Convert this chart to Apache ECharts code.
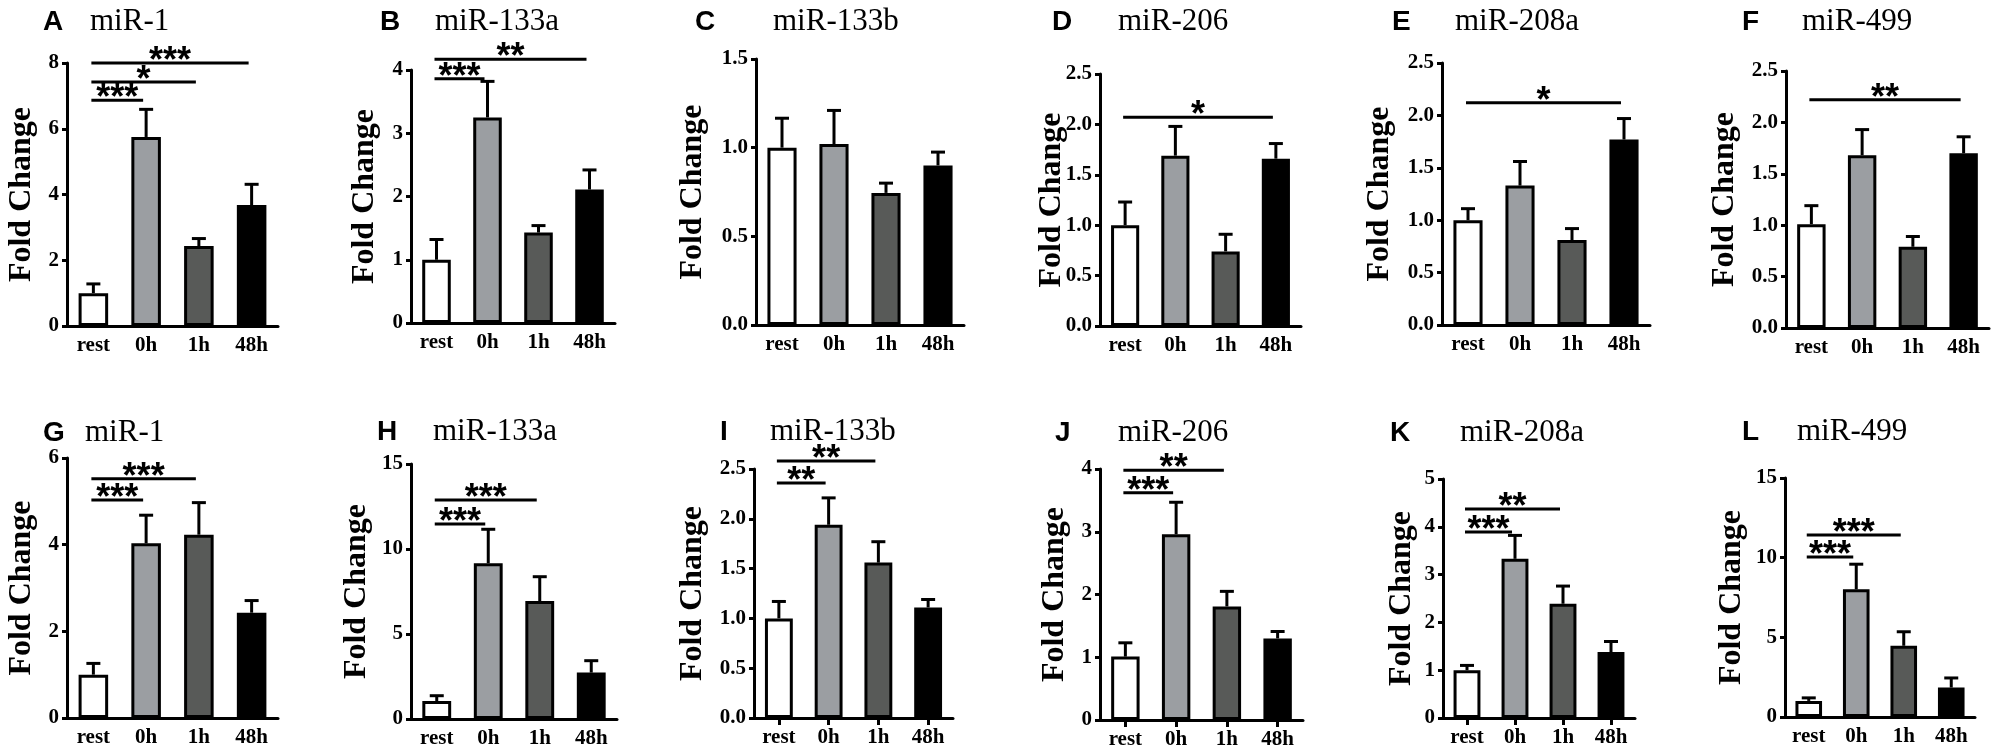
<!DOCTYPE html>
<html>
<head>
<meta charset="utf-8">
<script src="https://cdn.jsdelivr.net/npm/echarts@6/dist/echarts.min.js"></script>
<style>
html, body { margin: 0; padding: 0; background: #fff; }
#chart-container { width: 1997px; height: 756px; }
</style>
</head>
<body>
<div id="chart-container"></div>
<script>
var categories = ["rest", "0h", "1h", "48h"];
var letters = ["A", "B", "C", "D", "E", "F", "G", "H", "I", "J", "K", "L"];
var titles = ["miR-1", "miR-133a", "miR-133b", "miR-206", "miR-208a", "miR-499",
  "miR-1", "miR-133a", "miR-133b", "miR-206", "miR-208a", "miR-499"];

// mean fold change and SEM (upper error) per panel
var meanA = [1.0, 5.75, 2.43, 3.68], errA = [0.28, 0.84, 0.23, 0.63];
var meanB = [1.0, 3.25, 1.43, 2.11], errB = [0.32, 0.57, 0.11, 0.31];
var meanC = [1.0, 1.02, 0.745, 0.9], errC = [0.166, 0.19, 0.055, 0.075];
var meanD = [1.0, 1.69, 0.74, 1.66], errD = [0.23, 0.29, 0.17, 0.15];
var meanE = [1.0, 1.33, 0.81, 1.77], errE = [0.11, 0.23, 0.11, 0.2];
var meanF = [1.01, 1.68, 0.79, 1.7], errF = [0.18, 0.25, 0.1, 0.16];
var meanG = [1.0, 4.03, 4.23, 2.43], errG = [0.26, 0.65, 0.74, 0.28];
var meanH = [1.06, 9.16, 6.94, 2.73], errH = [0.31, 2.0, 1.43, 0.7];
var meanI = [1.0, 1.94, 1.56, 1.11], errI = [0.17, 0.27, 0.21, 0.08];
var meanJ = [1.01, 2.96, 1.81, 1.3], errJ = [0.22, 0.51, 0.24, 0.11];
var meanK = [1.0, 3.33, 2.39, 1.38], errK = [0.1, 0.49, 0.37, 0.22];
var meanL = [1.01, 8.01, 4.47, 1.85], errL = [0.19, 1.58, 0.88, 0.6];

// significance brackets: [from group, to group, height, stars]
var sigA = [[0, 1, 6.87, "***"], [0, 2, 7.42, "*"], [0, 3, 8.0, "***"]];
var sigB = [[0, 1, 3.86, "***"], [0, 3, 4.17, "**"]];
var sigC = [];
var sigD = [[0, 3, 2.07, "*"]];
var sigE = [[0, 3, 2.12, "*"]];
var sigF = [[0, 3, 2.22, "**"]];
var sigG = [[0, 1, 5.03, "***"], [0, 2, 5.52, "***"]];
var sigH = [[0, 1, 11.47, "***"], [0, 2, 12.88, "***"]];
var sigI = [[0, 1, 2.36, "**"], [0, 2, 2.58, "**"]];
var sigJ = [[0, 1, 3.62, "***"], [0, 2, 3.98, "**"]];
var sigK = [[0, 1, 3.89, "***"], [0, 2, 4.37, "**"]];
var sigL = [[0, 1, 10.04, "***"], [0, 2, 11.42, "***"]];

var yMax = [8, 4, 1.5, 2.5, 2.5, 2.5, 6, 15, 2.5, 4, 5, 15];
var yStep = [2, 1, 0.5, 0.5, 0.5, 0.5, 2, 5, 0.5, 1, 1, 5];

var means = [meanA, meanB, meanC, meanD, meanE, meanF, meanG, meanH, meanI, meanJ, meanK, meanL];
var errs = [errA, errB, errC, errD, errE, errF, errG, errH, errI, errJ, errK, errL];
var sigs = [sigA, sigB, sigC, sigD, sigE, sigF, sigG, sigH, sigI, sigJ, sigK, sigL];

// layout: [axis x, top tick y, axis end x, baseline y]
var boxes = [
  [67, 63, 278, 326], [411, 70, 615, 323], [756, 59, 964, 325],
  [1100, 74, 1301, 326], [1442, 63, 1650, 325], [1786, 71, 1989, 328],
  [67, 458, 278, 718], [411, 464, 617, 719], [754, 469, 953, 718],
  [1100, 469, 1303, 720], [1443, 479, 1635, 718], [1785, 478, 1975, 717]
];
// [letter x, title x, title y]
var titlePos = [
  [43, 90, 22], [380, 435, 22], [695, 773, 22], [1052, 1118, 22], [1392, 1455, 22], [1742, 1802, 22],
  [43, 85, 433], [377, 433, 432], [720, 770, 432], [1055, 1118, 433], [1390, 1460, 433], [1742, 1797, 432]
];
var yNameX = [22, 365, 693, 1052, 1380, 1725, 22, 357, 693, 1055, 1402, 1732];
var xTicks = [false, false, false, false, false, false, false, false, true, true, true, false];
var fills = ["#ffffff", "#9b9ea2", "#585a58", "#000000"];

var dom = document.getElementById("chart-container");
var myChart = echarts.init(dom, null, { renderer: "canvas" });

var serif = '"Liberation Serif", "Times New Roman", serif';
var grids = [], xAxes = [], yAxes = [], series = [], graphics = [];

boxes.forEach(function (b, i) {
  grids.push({ left: b[0], top: b[1], width: b[2] - b[0], height: b[3] - b[1] });
  xAxes.push({
    gridIndex: i,
    type: "category",
    data: categories,
    axisLine: { lineStyle: { color: "#000", width: 3 } },
    axisTick: { show: xTicks[i], alignWithLabel: true, length: 7, lineStyle: { color: "#000", width: 3 } },
    axisLabel: { color: "#000", fontFamily: serif, fontWeight: "bold", fontSize: 21, margin: 9 }
  });
  yAxes.push({
    gridIndex: i,
    type: "value",
    min: 0,
    max: yMax[i],
    interval: yStep[i],
    splitLine: { show: false },
    axisLine: { show: true, lineStyle: { color: "#000", width: 3 } },
    axisTick: { show: true, length: 5, lineStyle: { color: "#000", width: 3 } },
    axisLabel: {
      color: "#000", fontFamily: serif, fontWeight: "bold", fontSize: 21, margin: 8,
      formatter: function (v) { return yStep[i] < 1 ? v.toFixed(1) : String(v); }
    }
  });

  series.push({
    type: "bar",
    xAxisIndex: i,
    yAxisIndex: i,
    barWidth: "56%",
    silent: true,
    itemStyle: { borderColor: "#000", borderWidth: 3 },
    data: means[i].map(function (v, k) {
      return { value: v, itemStyle: { color: fills[k] } };
    })
  });

  // error bars (upper only)
  series.push({
    type: "custom",
    xAxisIndex: i,
    yAxisIndex: i,
    z: 3,
    silent: true,
    data: means[i].map(function (v, k) { return [k, v, v + errs[i][k]]; }),
    encode: { x: 0, y: [1, 2] },
    renderItem: function (params, api) {
      var p0 = api.coord([api.value(0), api.value(1)]);
      var p1 = api.coord([api.value(0), api.value(2)]);
      var st = { stroke: "#000", lineWidth: 3 };
      return {
        type: "group",
        children: [
          { type: "line", shape: { x1: p0[0], y1: p0[1], x2: p1[0], y2: p1[1] }, style: st },
          { type: "line", shape: { x1: p1[0] - 7, y1: p1[1], x2: p1[0] + 7, y2: p1[1] }, style: st }
        ]
      };
    }
  });

  // significance lines with stars
  series.push({
    type: "custom",
    xAxisIndex: i,
    yAxisIndex: i,
    z: 4,
    silent: true,
    data: sigs[i].map(function (s) { return [s[0], s[1], s[2]]; }),
    encode: { x: [0, 1], y: 2 },
    renderItem: function (params, api) {
      var s = sigs[i][params.dataIndex];
      var a = api.coord([s[0], s[2]]);
      var c = api.coord([s[1], s[2]]);
      var x1 = a[0] - 2, x2 = c[0] - 3;
      return {
        type: "group",
        children: [
          { type: "line", shape: { x1: x1, y1: a[1], x2: x2, y2: a[1] }, style: { stroke: "#000", lineWidth: 3 } },
          {
            type: "text", x: (x1 + x2) / 2, y: a[1] - 1,
            style: { text: s[3], font: 'bold 36px "Liberation Sans", Arial, sans-serif', fill: "#000", align: "center", verticalAlign: "middle" }
          }
        ]
      };
    }
  });

  var t = titlePos[i];
  graphics.push({
    type: "text", x: t[0], y: t[2],
    style: { text: letters[i], font: 'bold 28px "Liberation Sans", Arial, sans-serif', fill: "#000", verticalAlign: "middle" }
  });
  graphics.push({
    type: "text", x: t[1], y: t[2],
    style: { text: titles[i], font: "31px " + serif, fill: "#000", verticalAlign: "middle" }
  });
  graphics.push({
    type: "text", x: yNameX[i], y: (b[1] + b[3]) / 2, rotation: Math.PI / 2,
    style: { text: "Fold Change", font: "bold 32px " + serif, fill: "#000", align: "center", verticalAlign: "middle" }
  });
});

var option = {
  animation: false,
  backgroundColor: "#fff",
  grid: grids,
  xAxis: xAxes,
  yAxis: yAxes,
  series: series,
  graphic: graphics
};

myChart.setOption(option);
window.addEventListener("resize", myChart.resize);
</script>
</body>
</html>
